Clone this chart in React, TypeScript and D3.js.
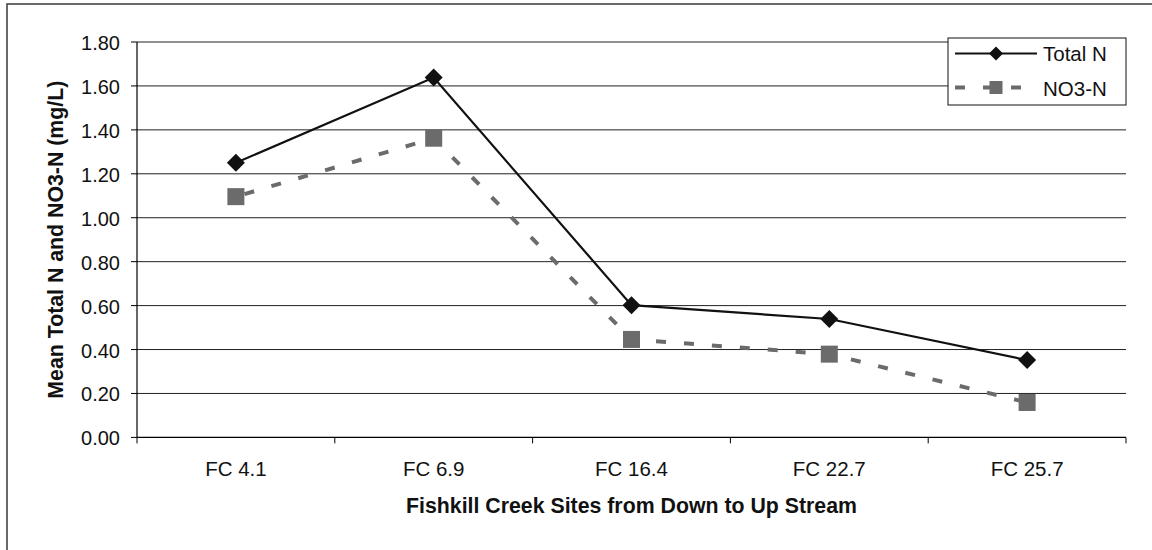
import React from "react";
import * as d3 from "d3";

const categories = ["FC 4.1", "FC 6.9", "FC 16.4", "FC 22.7", "FC 25.7"];
const totalN = [1.25, 1.638, 0.602, 0.539, 0.352];
const no3N = [1.096, 1.362, 0.446, 0.379, 0.159];
const yTicks = [0, 0.2, 0.4, 0.6, 0.8, 1.0, 1.2, 1.4, 1.6, 1.8];
const seriesNames = ["Total N", "NO3-N"];
const xTitle = "Fishkill Creek Sites from Down to Up Stream";
const yTitle = "Mean Total N and NO3-N (mg/L)";

const W = 1152;
const H = 550;
const left = 137;
const right = 1126;
const top = 42;
const bottom = 437.4;

export default function App() {
  const x = d3.scaleBand().domain(categories).range([left, right]).paddingInner(0).paddingOuter(0);
  const y = d3.scaleLinear().domain([0, 1.8]).range([bottom, top]);
  const cx = (c: string) => (x(c) as number) + x.bandwidth() / 2;
  const line = d3
    .line<number>()
    .x((_, i) => cx(categories[i]))
    .y((d) => y(d));
  const font = "Liberation Sans, Arial, sans-serif";
  const diamond = (px: number, py: number, r: number) =>
    `M${px},${py - r}L${px + r},${py}L${px},${py + r}L${px - r},${py}Z`;
  const grey = "#6b6b6b";

  return (
    <svg
      width={W}
      height={H}
      style={{ position: "fixed", left: 0, top: 0, background: "#fff" }}
      fontFamily={font}
    >
      <rect x={0} y={0} width={W} height={H} fill="#fff" />
      <rect x={7} y={4} width={1300} height={700} fill="none" stroke="#444" strokeWidth={1.6} />
      {/* gridlines */}
      {yTicks.slice(1).map((t) => (
        <line key={t} x1={left} x2={right} y1={y(t)} y2={y(t)} stroke="#222" strokeWidth={1} />
      ))}
      {/* y axis */}
      <line x1={left} x2={left} y1={top} y2={bottom} stroke="#000" strokeWidth={1.2} />
      {yTicks.map((t) => (
        <g key={"yt" + t}>
          <line x1={left - 6} x2={left} y1={y(t)} y2={y(t)} stroke="#000" strokeWidth={1} />
          <text x={120} y={y(t) + 1} textAnchor="end" dominantBaseline="central" fontSize={20} fill="#111">
            {t.toFixed(2)}
          </text>
        </g>
      ))}
      {/* x axis */}
      <line x1={left} x2={right} y1={bottom} y2={bottom} stroke="#000" strokeWidth={1.2} />
      {categories.map((c, i) => (
        <line key={"xt" + c} x1={x(c) as number} x2={x(c) as number} y1={bottom} y2={bottom + 6} stroke="#000" strokeWidth={1} />
      ))}
      <line x1={right} x2={right} y1={bottom} y2={bottom + 6} stroke="#000" strokeWidth={1} />
      {categories.map((c) => (
        <text key={"xl" + c} x={cx(c)} y={476} textAnchor="middle" fontSize={20.5} fill="#111">
          {c}
        </text>
      ))}
      <text x={(left + right) / 2} y={512.5} textAnchor="middle" fontSize={21.3} fontWeight="bold" fill="#111">
        {xTitle}
      </text>
      <text
        transform={`translate(63,${(top + bottom) / 2}) rotate(-90)`}
        textAnchor="middle"
        fontSize={21.3}
        fontWeight="bold"
        fill="#111"
      >
        {yTitle}
      </text>
      {/* NO3-N series */}
      <path d={line(no3N) || ""} fill="none" stroke={grey} strokeWidth={4} strokeDasharray="10,18" strokeDashoffset={-9} />
      {no3N.map((v, i) => (
        <rect key={"sq" + i} x={cx(categories[i]) - 8.5} y={y(v) - 8.5} width={17} height={17} fill={grey} />
      ))}
      {/* Total N series */}
      <path d={line(totalN) || ""} fill="none" stroke="#111" strokeWidth={2.2} />
      {totalN.map((v, i) => (
        <path key={"dm" + i} d={diamond(cx(categories[i]), y(v), 9)} fill="#111" />
      ))}
      {/* legend */}
      <rect x={948} y={38} width={178} height={67} fill="#fff" stroke="#111" strokeWidth={1} />
      <line x1={955} x2={1037} y1={53.5} y2={53.5} stroke="#111" strokeWidth={2.2} />
      <path d={diamond(996, 53.5, 7)} fill="#111" />
      <text x={1043} y={53.5} dominantBaseline="central" fontSize={20.5} fill="#111">
        {seriesNames[0]}
      </text>
      <line x1={955} x2={1037} y1={87.5} y2={87.5} stroke={grey} strokeWidth={4} strokeDasharray="10,18" />
      <rect x={989.5} y={81} width={13} height={13} fill={grey} />
      <text x={1043} y={88} dominantBaseline="central" fontSize={20.5} fill="#111">
        {seriesNames[1]}
      </text>
    </svg>
  );
}
